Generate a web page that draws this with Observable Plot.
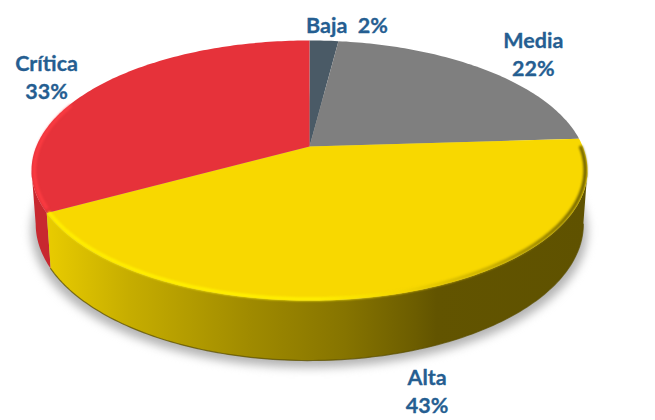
<!DOCTYPE html>
<html>
<head>
<meta charset="utf-8">
<style>html,body{margin:0;padding:0;background:#fff}svg{display:block}</style>
<script src="https://cdn.jsdelivr.net/npm/d3@7"></script>
<script src="https://cdn.jsdelivr.net/npm/@observablehq/plot@0.6"></script>
</head>
<body>
<script>
const categories = ["Baja", "Media", "Alta", "Crítica"];
const shares = [2, 22, 43, 33];
const topColors = ["#4a5a66", "#7f7f7f", "#f8d800", "#e6323a"];
const labelSeparators = ["  ", "\n", "\n", "\n"];
const labelDx = [23, 47, 25, -48];
const labelDy = [-17, -17, 97, -12];

// Perspective view of the pie disc
const view = {cx: 309, cy: 146, k: 273.2, a: 125.6, c: 0.1846, depth: 52.3, sx: 0.985, sy: 1.05};
function rim(deg, r = 1) {
  const t = deg * Math.PI / 180, u = r * Math.sin(t), v = -r * Math.cos(t), d = 1 - view.c * v;
  return {x: view.cx + view.k * u / d, y: view.cy + view.a * v / d};
}
function under(deg) {
  const p = rim(deg);
  return {x: view.cx + (p.x - view.cx) * view.sx, y: view.cy + (p.y - view.cy) * view.sy + view.depth};
}
const span = (a, b, f) => d3.range(0, 1 + 1e-9, 1 / Math.max(2, Math.ceil(Math.abs(b - a)))).map(s => f(a + (b - a) * s));

let acc = 0;
const slices = shares.map((v, i) => {
  const start = acc * 3.6; acc += v; const end = acc * 3.6;
  return {name: categories[i], value: v, start, end, mid: (start + end) / 2, color: topColors[i]};
});
const [baja, media, alta, critica] = slices;

// Angles where the disc outline is widest: the side's silhouette leaves the top rim there
const extremeR = 90 + Math.asin(view.c) * 180 / Math.PI;
const extremeL = 360 - extremeR;

const wedge = s => [{x: view.cx, y: view.cy}, ...span(s.start, s.end, rim)];
const side = (a, b) => [...span(a, b, rim), ...span(b, a, under)];

function defs() {
  const d = d3.create("svg:defs");
  const grad = (id, x1, x2, stops) => {
    const g = d.append("linearGradient").attr("id", id).attr("gradientUnits", "userSpaceOnUse")
      .attr("x1", x1).attr("x2", x2).attr("y1", 0).attr("y2", 0);
    stops.forEach(([o, c]) => g.append("stop").attr("offset", o).attr("stop-color", c));
  };
  grad("sideY", 48, 587, [[0, "#e8cb00"], [0.15, "#c6ad00"], [0.37, "#a08b00"], [0.55, "#867400"], [0.68, "#6c5d00"], [0.72, "#625400"], [1, "#5f5200"]]);
  grad("rimY", 48, 587, [[0, "#ffee00"], [0.5, "#fff000"], [0.66, "#f3d500"], [0.82, "#c8ae00"], [1, "#6e6000"]]);
  return d.node();
}

const bottomRing = span(0, 360, under);
const shadow = bottomRing.map(p => ({x: p.x + (p.x - view.cx) * 0.015, y: p.y + 7}));

const marks = [
  defs,
  Plot.line(shadow, {x: "x", y: "y", fill: "#b4b4b4", stroke: "none", imageFilter: "blur(5px)"}),
  Plot.line(side(critica.start, extremeL), {x: "x", y: "y", fill: "#c8282f", stroke: "none"}),
  Plot.line(side(extremeR, alta.end), {x: "x", y: "y", fill: "url(#sideY)", stroke: "none"}),
  Plot.line(span(extremeR, alta.end, under), {x: "x", y: "y", stroke: "#5c5000", strokeWidth: 1.2, strokeOpacity: 0.75}),
  ...slices.map(s => Plot.line(wedge(s), {x: "x", y: "y", fill: s.color, stroke: "none"})),
  Plot.line(span(alta.end + 2, 290, d => rim(d, 0.99)), {x: "x", y: "y", stroke: "#ff3d44", strokeWidth: 3.5, strokeOpacity: 0.8, imageFilter: "blur(0.8px)"}),
  Plot.line(span(alta.start + 4, alta.end - 0.4, d => rim(d, 0.992)), {x: "x", y: "y", stroke: "url(#rimY)", strokeWidth: 3.5, imageFilter: "blur(0.8px)"}),
  ...slices.map((s, i) => {
    const p = rim(s.mid);
    return Plot.text([`${s.name}${labelSeparators[i]}${s.value}%`], {
      x: () => p.x, y: () => p.y, text: d => d,
      dx: labelDx[i], dy: labelDy[i], textAnchor: "middle", lineAnchor: "middle",
      fontFamily: "Lato", fontWeight: 700, fontSize: 21.5, lineHeight: 1.302, fill: "#255e91",
      stroke: "#255e91", strokeWidth: 0.3
    });
  })
];

document.body.append(Plot.plot({
  width: 655, height: 420, margin: 0,
  x: {domain: [0, 655], range: [0, 655], axis: null},
  y: {domain: [0, 420], range: [0, 420], axis: null},
  style: {background: "#fff"},
  marks
}));
</script>
</body>
</html>
